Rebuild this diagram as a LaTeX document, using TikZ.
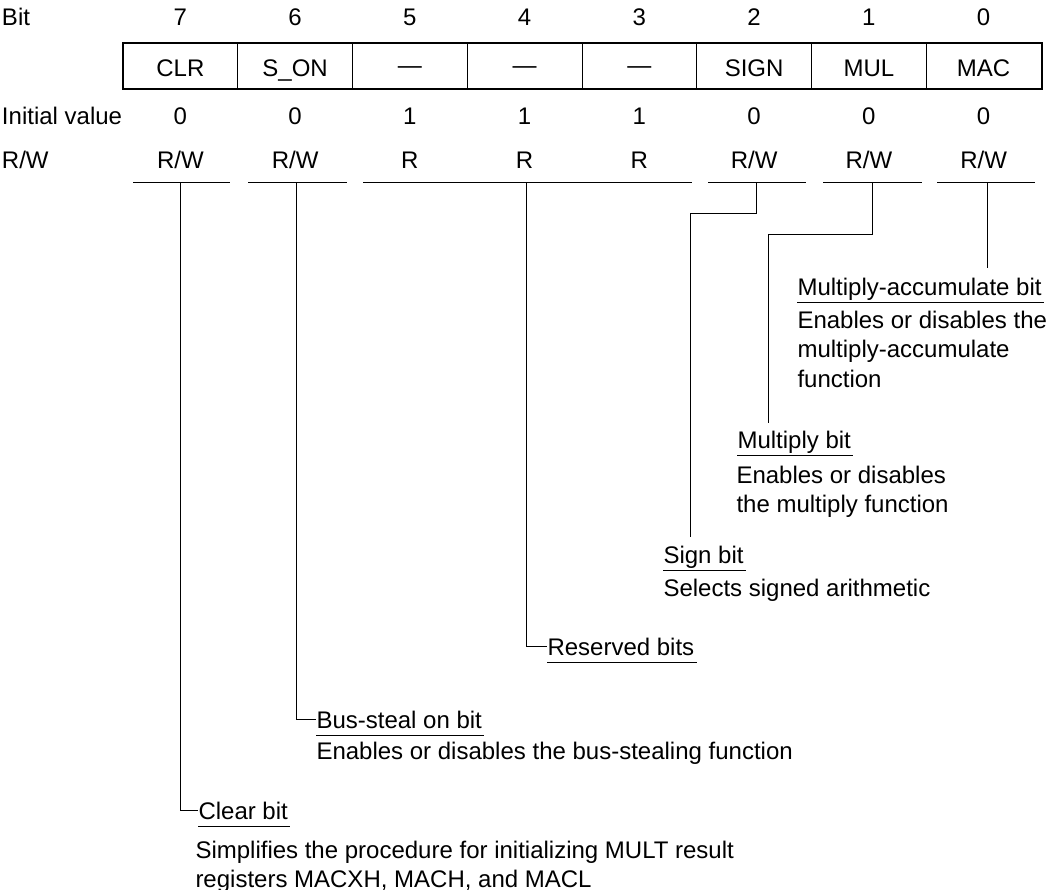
\documentclass[tikz,border=0pt]{standalone}
\usepackage{fontspec}
\setmainfont{Liberation Sans}
\usetikzlibrary{positioning}
\newcommand{\rsvdash}{\raisebox{1.3pt}{—}}

\begin{document}
\begin{tikzpicture}[x=0.5pt, y=-0.5pt, line width=0.5pt,
          font=\fontsize{12}{14.7}\selectfont,
          lbl/.style={anchor=base, inner sep=0pt},
          rowlbl/.style={anchor=base west, inner sep=0pt},
          cell/.style={draw, inner sep=0pt, minimum width=57.375pt, minimum height=22.5pt, text height=10.5pt, text depth=0pt},
          ttl/.style={anchor=base west, inner sep=0pt},
          desc/.style={inner sep=0pt, align=left}]
        \useasboundingbox (0,0) rectangle (1047,889);
        % row headings
        \node[rowlbl] (hbit) at (1.5,25) {Bit};
        \node[rowlbl] (hinit) at (1.5,124) {Initial value};
        \node[rowlbl] (hrw) at (1.5,168) {R/W};
        % register
        \foreach \b [count=\i from 0] in {7,6,5,4,3,2,1,0}
          \node[lbl] (n\i) at ({123+114.75*(\i+0.5)},25) {\b};
        \foreach \nm [count=\i from 0] in {CLR,S\_ON,\rsvdash,\rsvdash,\rsvdash,SIGN,MUL,MAC}
          \node[cell] (c\i) at ({123+114.75*(\i+0.5)},65.5) {\nm};
        \draw[line width=1pt] (c0.north west) rectangle (c7.south east);
        \foreach \v [count=\i from 0] in {0,0,1,1,1,0,0,0}
          \node[lbl] (iv\i) at ({123+114.75*(\i+0.5)},124) {\v};
        \foreach \v [count=\i from 0] in {R/W,R/W,R,R,R,R/W,R/W,R/W}
          \node[lbl] (rw\i) at ({123+114.75*(\i+0.5)},168) {\v};
        \foreach \a/\b in {133/230,248/347,363/692,708/806,823/922,937/1035}
          \draw (\a,182) -- (\b,182);
        \coordinate (tap7) at (180,182);
        \coordinate (tap6) at (296,182);
        \coordinate (tap4) at (526,182);
        \coordinate (tap2) at (756,182);
        \coordinate (tap1) at (872,182);
        \coordinate (tap0) at (987,182);
        % bit titles
        \node[ttl] (clr) at (198,819) {Clear bit};
        \node[ttl] (bus) at (316,728) {Bus-steal on bit};
        \node[ttl] (rsv) at (547,655) {Reserved bits};
        \node[ttl] (sgn) at (663,563) {Sign bit};
        \node[ttl] (mul) at (737,448) {Multiply bit};
        \node[ttl] (mac) at (797,295) {Multiply-accumulate bit};
        \foreach \t in {clr,bus,rsv,sgn,mul,mac}
          \draw ([yshift=-3.5pt]\t.base west) -- ([xshift=1pt,yshift=-3.5pt]\t.base east);
        % descriptions
        \node[desc, below right=10.75pt and -1.5pt of clr.base west] (clrd) {Simplifies the procedure for initializing MULT result\\registers MACXH, MACH, and MACL};
        \node[desc, below right=6.75pt and 0pt of bus.base west] (busd) {Enables or disables the bus-stealing function};
        \node[desc, below right=7.75pt and 0pt of sgn.base west] (sgnd) {Selects signed arithmetic};
        \node[desc, below right=8.75pt and -0.5pt of mul.base west] (muld) {Enables or disables\\the multiply function};
        \node[desc, below right=7.75pt and 0pt of mac.base west] (macd) {Enables or disables the\\multiply-accumulate\\function};
        % leaders
        \coordinate (sgnend) at (690,537);
        \coordinate (mulend) at (768,423);
        \coordinate (macend) at (987,268);
        \draw (tap7) |- (clr.west);
        \draw (tap6) |- (bus.west);
        \draw (tap4) |- (rsv.west);
        \draw (tap2) -- ++(0,31) -| (sgnend);
        \draw (tap1) -- ++(0,52) -| (mulend);
        \draw (tap0) -- (macend);
      \end{tikzpicture}
\end{document}
